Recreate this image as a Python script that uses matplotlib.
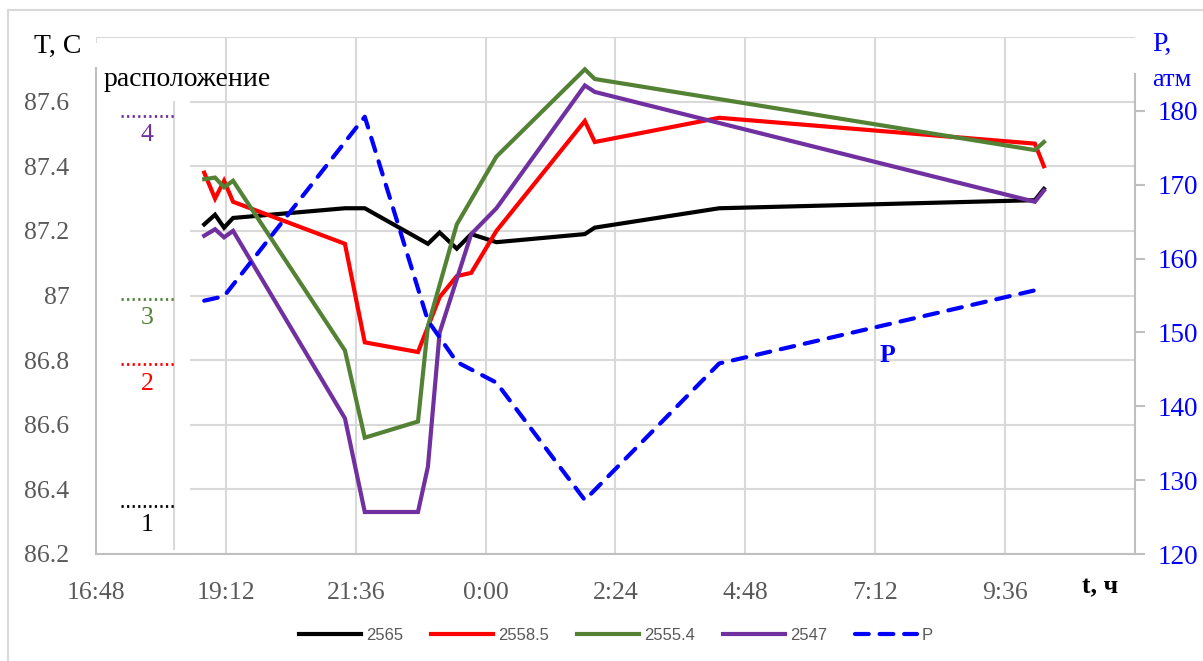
import numpy as np
import matplotlib
matplotlib.use("Agg")
import matplotlib.pyplot as plt
from matplotlib.lines import Line2D
from matplotlib.patches import Rectangle

# Temperature logs at four depths (m) and wellhead pressure, overnight run
TIMES_2565 = ["18:48", "19:00", "19:10", "19:20", "21:24", "21:46", "22:56", "23:09",
              "23:28", "23:44", "0:12", "1:50", "2:01", "4:19", "10:09", "10:19"]
T_2565 = [87.22, 87.25, 87.21, 87.24, 87.27, 87.27, 87.16, 87.195,
          87.145, 87.19, 87.165, 87.19, 87.21, 87.27, 87.295, 87.33]

TIMES_2558 = ["18:48", "19:00", "19:10", "19:20", "21:24", "21:46", "22:45", "23:09",
              "23:28", "23:44", "0:12", "1:50", "2:01", "4:19", "10:09", "10:19"]
T_2558 = [87.38, 87.30, 87.355, 87.29, 87.16, 86.855, 86.825, 86.995,
          87.06, 87.07, 87.20, 87.54, 87.475, 87.55, 87.47, 87.40]

TIMES_2555 = ["18:48", "19:00", "19:10", "19:20", "21:24", "21:46", "22:45", "22:56",
              "23:28", "0:12", "1:50", "2:01", "10:09", "10:19"]
T_2555 = [87.36, 87.365, 87.335, 87.355, 86.83, 86.56, 86.61, 86.905,
          87.22, 87.43, 87.70, 87.67, 87.45, 87.475]

TIMES_2547 = ["18:48", "19:00", "19:10", "19:20", "21:24", "21:46", "22:45", "22:56",
              "23:09", "23:44", "0:12", "1:50", "2:01", "10:09", "10:19"]
T_2547 = [87.185, 87.205, 87.18, 87.20, 86.62, 86.33, 86.33, 86.47,
          86.885, 87.19, 87.27, 87.65, 87.63, 87.29, 87.325]

TIMES_P = ["18:48", "19:10", "21:46", "22:56", "23:28", "0:12", "1:50", "4:19", "10:09"]
P_ATM = [154.3, 154.9, 179.2, 151.6, 146.0, 143.2, 127.3, 145.8, 155.7]

# sensor position marks shown in the inset ("1" deepest ... "4" shallowest)
POS_LABELS = ["1", "2", "3", "4"]
POS_LEVELS = [86.35, 86.787, 86.99, 87.555]
POS_COLORS = ["black", "#ff0000", "#548235", "#7030a0"]

SERIES = [
    ("2565", TIMES_2565, T_2565, "black"),
    ("2558.5", TIMES_2558, T_2558, "#ff0000"),
    ("2555.4", TIMES_2555, T_2555, "#548235"),
    ("2547", TIMES_2547, T_2547, "#7030a0"),
]

X_START = 16.8      # 16:48
X_STEP = 2.4        # 2:24
PX_PER_H = 54.17
GRID = "#d9d9d9"
AXIS = "#bfbfbf"
TICK_GRAY = "#595959"


def to_hours(labels):
    """Clock strings -> hours since midnight of the first day, rolling over at 24h."""
    out, day, prev = [], 0.0, None
    for s in labels:
        h, m = map(int, s.split(":"))
        v = h + m / 60 + day
        if prev is not None and v < prev:
            day += 24
            v += 24
        out.append(v)
        prev = v
    return np.array(out)


def hhmm(v):
    v = v % 24
    h = int(v)
    m = int(round((v - h) * 60))
    return f"{h}:{m:02d}"


def px_to_h(px):
    return X_START + (px - 96) / PX_PER_H


plt.rcParams["font.family"] = ["Liberation Serif", "DejaVu Serif"]

fig = plt.figure(figsize=(12.03, 6.61), dpi=100)
ax = fig.add_axes([96 / 1203, 1 - 554 / 661, (1135 - 96) / 1203, (554 - 37) / 661])
ax2 = ax.twinx()

# frame around the whole chart (only top/left edges fall inside the image)
fig.add_artist(Line2D([8 / 1203, 8 / 1203], [0, 1 - 10 / 661], transform=fig.transFigure,
                      color=GRID, lw=1.5))
fig.add_artist(Line2D([8 / 1203, 1], [1 - 10 / 661, 1 - 10 / 661], transform=fig.transFigure,
                      color=GRID, lw=1.5))

xticks = X_START + X_STEP * np.arange(8)
ax.set_xlim(X_START, X_START + X_STEP * 8)
ax.set_xticks(xticks)
ax.set_xticklabels([hhmm(v) for v in xticks])
ax.set_ylim(86.2, 87.8)
yt = np.round(np.arange(86.2, 87.61, 0.2), 1)
ax.set_yticks(list(yt) + [87.8])
ax.set_yticklabels([f"{v:g}" for v in yt] + [""])

ax.set_axisbelow(True)
ax.grid(True, color=GRID, lw=1.5)
ax.tick_params(axis="both", length=0, labelsize=18.5, labelcolor=TICK_GRAY)
ax.tick_params(axis="x", pad=20)
ax.tick_params(axis="y", pad=19)
for side in ("top", "right"):
    ax.spines[side].set_visible(False)
for side in ("left", "bottom"):
    ax.spines[side].set_color(AXIS)
    ax.spines[side].set_linewidth(1.5)
ax.spines["left"].set_bounds(86.2, 87.705)

# blank inset area holding the sensor position legend
x_inset = px_to_h(190)
ax.add_patch(Rectangle((X_START, 86.2), x_inset - X_START, 1.58, facecolor="white",
                       edgecolor="none", zorder=0.8))
x_sep = px_to_h(174)
ax.plot([x_sep, x_sep], [86.215, 87.6], color=GRID, lw=1.5, zorder=0.9)
x_dot0 = px_to_h(121)
for lab, lev, col in zip(POS_LABELS, POS_LEVELS, POS_COLORS):
    ax.plot([x_dot0, x_sep], [lev, lev], color=col, lw=2, ls=(0, (0.8, 1.2)), zorder=1)
    ax.annotate(lab, (px_to_h(147), lev), xytext=(0, -6),
                textcoords="offset points", ha="center", va="top", fontsize=18.5, color=col)
ax.text(px_to_h(104), 87.668, "расположение", fontsize=20,
        ha="left", va="center", color="black")

handles = []
for name, times, vals, col in SERIES:
    h, = ax.plot(to_hours(times), vals, color=col, lw=3, label=name,
                 solid_joinstyle="miter", zorder=3)
    handles.append(h)

ax2.set_ylim(120, 190)
ax2.set_yticks(np.arange(120, 181, 10))
hp, = ax2.plot(to_hours(TIMES_P), P_ATM, color="#0000ff", lw=3, ls=(0, (3.3, 2.6)),
               dash_capstyle="round", label="P", zorder=3)
handles.append(hp)
ax2.tick_params(axis="y", length=7, width=1.5, color=AXIS, labelsize=19.5,
                labelcolor="#0000ff", pad=9)
for side in ("top", "left", "bottom"):
    ax2.spines[side].set_visible(False)
ax2.spines["right"].set_color(AXIS)
ax2.spines["right"].set_linewidth(1.5)
ax2.spines["right"].set_bounds(120, 185)

# axis captions
fig.text(58 / 1203, 1 - 46 / 661, "T, C", fontsize=20, ha="center", va="center")
fig.text(1152 / 1203, 1 - 44 / 661, "P,", fontsize=20, ha="left", va="center",
         color="#0000ff")
fig.text(1152 / 1203, 1 - 80 / 661, "атм", fontsize=19, ha="left", va="center",
         color="#0000ff")
fig.text(1100 / 1203, 1 - 587 / 661, "t, ч", fontsize=18.5, ha="center", va="center",
         fontweight="bold")
ax2.annotate("P", (px_to_h(888), 146.9), fontsize=18.5, fontweight="bold",
             color="#0000ff", ha="center", va="center")

fig.legend(handles=handles, loc="center", bbox_to_anchor=(616 / 1203, 1 - 635 / 661),
           ncol=5, frameon=False, handlelength=3.7, handletextpad=0.3,
           columnspacing=1.7,
           prop={"family": ["Liberation Sans Narrow", "Liberation Sans"], "size": 12})
for t in fig.legends[0].get_texts():
    t.set_color(TICK_GRAY)

fig.savefig("out.png", dpi=100)
